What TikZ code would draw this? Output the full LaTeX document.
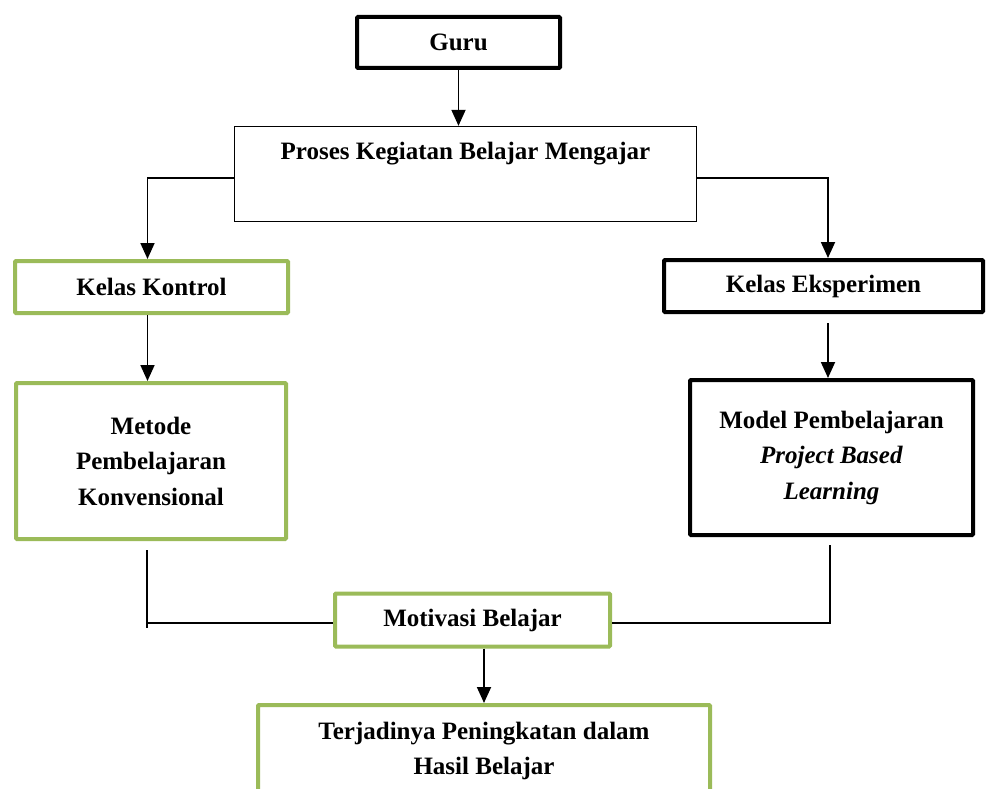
\documentclass[tikz,border=0pt]{standalone}
\usepackage{fontspec}
\setmainfont{Liberation Serif}
\usetikzlibrary{arrows.meta}
\definecolor{olivegreen}{HTML}{9BBB59}

\tikzset{
  box/.style={shape=rectangle, draw=black, align=center, inner sep=0pt,
    font=\bfseries\fontsize{25}{35.5}\selectfont},
  blackbox/.style={box, line width=4pt, rounded corners=1pt},
  greenbox/.style={box, draw=olivegreen, line width=4pt, rounded corners=1pt},
  thinbox/.style={box, line width=1.3pt},
  link/.style={line width=1.8pt},
  arrowlink/.style={link, -{Triangle[length=16pt,width=14pt]}}
}

\begin{document}
\begin{tikzpicture}[x=1pt,y=-1pt]
    \useasboundingbox (0,0) rectangle (986,789);
    \clip (0,0) rectangle (986,789);
    % boxes
    \node[blackbox,minimum width=203pt,minimum height=51pt] (guru) at (458.5,42.5) {Guru};
    \node[thinbox,minimum width=462pt,minimum height=95pt] (proses) at (465.5,174) {Proses Kegiatan Belajar Mengajar\\ \strut};
    \node[greenbox,minimum width=273pt,minimum height=52pt] (kontrol) at (151.5,287) {Kelas Kontrol};
    \node[blackbox,minimum width=319pt,minimum height=52pt] (eksperimen) at (823.5,286) {Kelas Eksperimen};
    \node[greenbox,minimum width=270pt,minimum height=156pt] (metode) at (151,461) {Metode\\ Pembelajaran\\ Konvensional};
    \node[blackbox,minimum width=283pt,minimum height=155pt] (model) at (831.5,457.5) {Model Pembelajaran\\ \textit{Project Based}\\ \textit{Learning}};
    \node[greenbox,minimum width=275pt,minimum height=53pt] (motivasi) at (472.5,620) {Motivasi Belajar};
    \node[greenbox,minimum width=452pt,minimum height=92pt] (hasil) at (484,751) {Terjadinya Peningkatan dalam\\ Hasil Belajar};
    % connectors
    \draw[arrowlink] (guru.south) -- (guru.south |- proses.north);
    \draw[arrowlink] ([yshift=-4pt]proses.west) -| ([xshift=-4pt]kontrol.north);
    \draw[arrowlink] ([yshift=-4pt]proses.east) -| ([xshift=4.5pt]eksperimen.north);
    \draw[arrowlink] ([xshift=-4pt]kontrol.south) -- ([xshift=-4pt]kontrol.south |- metode.north);
    \draw[arrowlink] ([yshift=-9pt,xshift=4.5pt]eksperimen.south) -- ([xshift=4.5pt]eksperimen.south |- model.north);
    \draw[link] ([yshift=-9pt,xshift=-4pt]metode.south) -- ([yshift=-8pt,xshift=-4pt]metode.south |- motivasi.west);
    \draw[link] ([yshift=-3pt,xshift=-4pt]metode.south |- motivasi.west) -- ([yshift=-3pt]motivasi.west);
    \draw[link] ([yshift=-8pt,xshift=-1.5pt]model.south) |- ([yshift=-3pt]motivasi.east);
    \draw[arrowlink] (motivasi.south -| hasil.north) -- (hasil.north);
\end{tikzpicture}
\end{document}
